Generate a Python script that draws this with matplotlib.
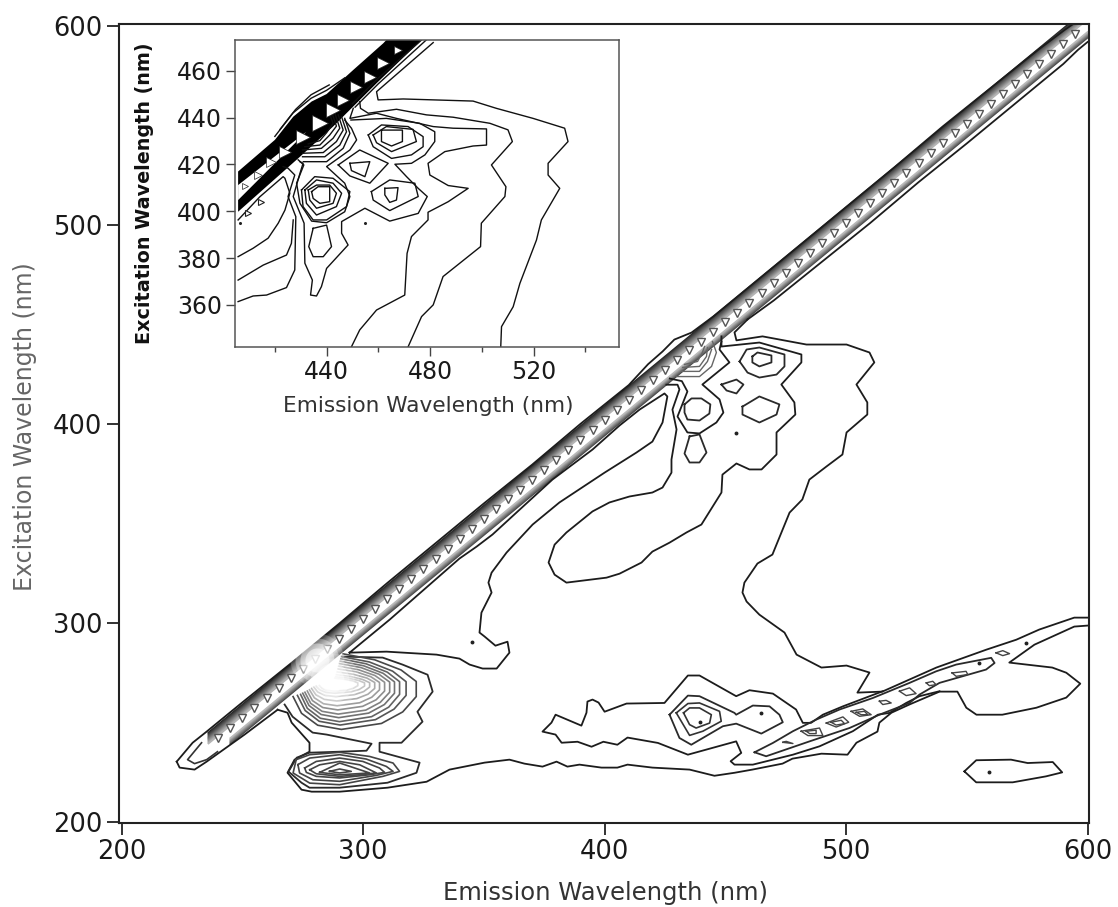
#
# Excitation-emission contour map with an inset zoom of the 400-550 nm region
#
import matplotlib
matplotlib.use('Agg')
import matplotlib.pyplot as plt
import numpy as np

# Main panel: contours as (emission, excitation) in nm
band_top = [(222.8, 230.2), (229.4, 239.7), (235.2, 245.3), (250, 260), (270, 279.5), (290, 299.5), (310, 320),
            (330, 340), (350, 360), (370, 379.5), (390, 400), (410, 419.5), (418, 430), (424, 436.4), (428.9, 442.4),
            (436, 445.9), (445, 454), (460, 469), (480, 489), (500, 509), (520, 529), (540, 549.5), (560, 569),
            (580, 588.5), (591, 598.5), (600, 606)]
band_low = [(222.8, 230.2), (224, 227.2), (230.2, 226.2), (235.2, 230.2), (250.9, 243.8), (264.6, 256.3)]
band_low_right = [(459.2, 452.5), (470, 462), (490, 481.5), (510, 501), (530, 521.5), (550, 541), (570, 561),
                  (590, 581), (596, 588), (600, 592)]
tip_inner = [(233.1, 239.7), (227.3, 231.2), (230.2, 229.2), (235.2, 231.2), (239.7, 235.2)]

edge_contour = [(264.6, 256.3), (268.7, 254.8), (270.4, 249.8), (277.8, 239.7), (277.8, 235.2), (271.6, 231.2),
                (268.7, 224.6), (274.5, 216.1), (278.7, 215.1), (290.3, 215.1), (310.1, 217.1), (326.3, 220.1),
                (335.8, 226.2), (350.3, 229.7), (360.6, 231.2), (366.8, 229.2), (374.3, 227.7), (380.1, 230.2),
                (384.6, 227.7), (389.6, 228.7), (398.7, 227.2), (405.3, 227.2), (409.5, 228.7), (419.8, 227.2),
                (435.2, 226.2), (445.5, 223.1), (453.8, 224.6), (461.2, 226.2), (473.7, 229.2), (477.8, 231.7),
                (489.8, 234.2), (500.6, 233.7), (504.3, 239.7), (513, 245.3), (513.8, 249.8), (518.8, 254.8),
                (526.2, 258.9), (538.7, 265.4), (546.1, 265.4), (549.8, 257.3), (554, 253.8), (564.7, 253.8),
                (578.8, 257.3), (591.2, 262.4), (597, 269.4), (591.2, 274.9), (585.4, 277.5), (567.6, 280),
                (578, 289), (594.5, 298.1), (600, 298.6)]
big_contour = [(600, 302.6), (594.5, 302.6), (580, 296.6), (570.5, 291.5), (558.1, 286.5), (537.4, 277.5),
               (515, 265.4), (504.7, 264.9), (509.7, 275), (500.2, 278.5), (489.8, 277.5), (479.5, 284),
               (474.5, 295.1), (464.1, 304.1), (458.8, 310.7), (457.1, 315.2), (457.9, 320.2), (463.3, 329.8),
               (469.5, 334.3), (476.6, 355.4), (480.7, 360.5), (481.9, 362), (484.8, 372), (491.9, 378.6),
               (498.5, 384.6), (500.2, 395.7), (508.8, 404.7), (508.8, 410.8), (504.3, 419.8), (511.7, 430.9),
               (509.7, 435.9), (500.2, 439.9), (483.6, 439.9), (465.4, 444), (454.6, 442), (453.8, 446), (459.2, 452.5)]
lobe_contour = [(294.4, 285), (311, 301.6), (339.9, 332.3), (347, 338.3), (353.6, 344.4), (378.4, 372), (395, 387.1),
                (406.2, 399.2), (414.5, 407.2), (424.8, 415.3), (426, 413.8), (424, 400.7), (419.8, 391.1),
                (413.2, 385.6), (400, 375.5), (381.3, 360.5), (370.2, 349.4), (359.4, 335.3), (353.2, 325.2),
                (351.9, 320.2), (353.2, 315.2), (349, 305.1), (348.2, 295.1), (350.3, 293.1), (354.8, 288.5),
                (359.8, 290.5), (360.6, 285), (355.3, 277), (349.5, 277), (344.1, 279), (339.9, 282), (330.4, 284),
                (309.7, 285.5), (294.4, 285)]
mid_contour = [(425.6, 419.7), (430.2, 419.7), (431, 417.3), (428.1, 407.2), (429.8, 397.2), (427.7, 382.1),
               (427.7, 375.5), (424, 368), (419.8, 365.5), (410.3, 363.5), (402, 360.5), (395, 356), (384.2, 345.4),
               (379.3, 339.3), (376.8, 330.3), (379.3, 324.2), (384.2, 320.2), (400.8, 322.7), (406.2, 324.7),
               (415.3, 330.3), (419.8, 335.8), (426.9, 340.3), (433.9, 345.4), (440.1, 349.4), (448.4, 365.5),
               (448.8, 374.5), (454.6, 380.1), (460, 377.1), (465, 377.1), (471.2, 384.6), (471.2, 395.7),
               (479, 404.7), (478.6, 410.8), (473.2, 419.8), (481.5, 430.9), (481.5, 434.9), (464.1, 440.9),
               (448.4, 438.9), (448.4, 444)]
inner_contour = [(448.4, 441.4), (447.6, 437.4), (451.7, 430.9), (440.5, 419.8), (447.6, 412.3), (449.2, 405.7),
                 (446.3, 400.7), (439.3, 395.2), (434.3, 395.7), (430.2, 403.7), (434.3, 416.3), (432, 421.5),
                 (427, 422.8)]
peak_left = [(433.1, 409.8), (436, 412.8), (440.1, 412.8), (443.8, 409.8), (443.4, 405.2), (439.3, 401.7),
             (434.3, 402.2), (433.1, 405.7), (433.1, 409.8)]
peak_right = [(457.1, 408.7), (464.1, 413.8), (472.4, 409.8), (471.2, 404.7), (464.1, 400.7), (457.1, 404.7),
              (457.1, 408.7)]
peak_center = [(448.4, 419.8), (454.6, 422.3), (457.5, 419.8), (454.6, 415.3), (450.5, 416.8), (448.4, 419.8)]
peak_top_outer = [(455.9, 431.4), (458.8, 437.4), (464.1, 438.4), (474.5, 434.9), (474.5, 428.9), (471.2, 424.8),
                  (464.1, 423.3), (459.2, 425.8), (455.9, 431.4)]
peak_top_inner = [(461.2, 433.9), (463.3, 435.9), (469.1, 434.4), (469.1, 430.9), (464.1, 428.9), (461.2, 430.9),
                  (461.2, 433.9)]
teardrop = [(435.2, 393.7), (439.3, 394.7), (442.2, 385.6), (439.3, 380.6), (435.2, 380.6), (433.1, 385.1),
            (435.2, 393.7)]
fan_arcs = [[(429.8, 423.8), (439.3, 423.8), (444.3, 428.9), (446.3, 435.9), (444.7, 441.4)],
            [(431.8, 426.4), (439.3, 426.4), (442.6, 431.4), (444.3, 437.4)],
            [(432.3, 428.4), (439.3, 428.9), (442.2, 433.9), (442.6, 438.4)],
            [(433.1, 429.9), (438.5, 431.4), (440.5, 435.9), (441.4, 438.9)]]

# Contour around both UV peaks
uv_contour = [(291.5, 283), (308.1, 282.5), (316.3, 279), (326.7, 273.9), (328.8, 265.4), (322.5, 255.3),
              (324.6, 250.3), (315.9, 239.7), (306.8, 239.7), (306.8, 235.2), (323.4, 229.7), (322.1, 224.6),
              (310.1, 219.6), (290.3, 217.1), (277.8, 217.1), (274.5, 219.6), (269.1, 225.2), (272.5, 232.2),
              (277.8, 234.7), (290.3, 235.2), (301.4, 235.7), (303.5, 239.2), (284.9, 243.8), (279.1, 244.8),
              (270.8, 252.8), (267.5, 258.9)]
# Rings of the 270 nm peak, outer to inner
peak270_a = [(291.7, 284.4), (304.8, 281.4), (315.7, 276.3), (322, 270.5), (322, 262.9), (316.4, 255.2), (307.6, 249.4),
             (291, 246.4), (281.2, 248.5), (274.5, 254.5), (271, 262.9)]
peak270_b = [(291.1, 283), (302.6, 280.3), (312.2, 275.7), (317.8, 270.4), (317.8, 263.5), (312.8, 256.6),
             (305.1, 251.3), (290.5, 248.6), (281.8, 250.5), (276, 255.9), (272.8, 263.5)]
peak270_c = [(290.8, 281.9), (301.2, 279.4), (310, 275.2), (315.1, 270.4), (315.1, 264), (310.6, 257.6), (303.5, 252.8),
             (290.2, 250.3), (282.3, 252), (276.9, 257), (274.1, 264)]
peak270_d = [(290.5, 280.7), (300.2, 278.4), (308.3, 274.6), (313, 270.3), (313, 264.6), (308.8, 258.9), (302.3, 254.6),
             (289.9, 252.3), (282.6, 253.9), (277.6, 258.4), (275, 264.6)]
peak270_e = [(290.2, 279.5), (299.1, 277.5), (306.6, 274.1), (311, 270.2), (311, 265.1), (307.1, 260), (301.1, 256.1),
             (289.7, 254.1), (283, 255.5), (278.3, 259.5), (275.9, 265.1)]
peak270_f = [(289.9, 278.2), (298.1, 276.4), (304.9, 273.5), (308.9, 270.1), (308.9, 265.7), (305.4, 261.3),
             (299.8, 258), (289.5, 256.2), (283.3, 257.4), (279, 260.9), (276.9, 265.7)]
peak270_g = [(289.6, 276.8), (297, 275.4), (303.2, 272.9), (306.8, 270), (306.8, 266.3), (303.6, 262.6), (298.6, 259.8),
             (289.2, 258.3), (283.6, 259.3), (279.8, 262.3), (277.8, 266.3)]
peak270_h = [(289.3, 275.3), (296, 274.1), (301.6, 272.2), (304.8, 270), (304.8, 267), (302, 264.1), (297.4, 261.9),
             (289, 260.7), (283.9, 261.5), (280.5, 263.8), (278.7, 267)]
peak270_i = [(289, 273.9), (294.9, 273), (299.8, 271.5), (302.7, 269.9), (302.7, 267.7), (300.2, 265.4), (296.2, 263.8),
             (288.7, 262.9), (284.3, 263.5), (281.2, 265.2), (279.6, 267.7)]
peak270_j = [(288.7, 272.8), (293.8, 272.2), (298.1, 271), (300.6, 269.8), (300.6, 268.2), (298.4, 266.5), (295, 265.3),
             (288.5, 264.6), (284.6, 265), (282, 266.3), (280.6, 268.2)]
peak270_k = [(288.3, 272.2), (292.4, 271.6), (295.8, 270.8), (297.8, 269.8), (297.8, 268.4), (296, 267.1), (293.3, 266.1),
             (288.1, 265.6), (285, 266), (283, 267), (281.9, 268.4)]
peak270_rings = [peak270_a, peak270_b, peak270_c, peak270_d, peak270_e, peak270_f, peak270_g, peak270_h, peak270_i,
                 peak270_j, peak270_k]
# Rings of the 225 nm peak
peak225_a = [(272.3, 231.2), (277.9, 233.7), (290.3, 234.9), (302.7, 232.8), (312.4, 229.5), (315.1, 225.3), (308.2, 222.8),
             (290.3, 218.6), (277.9, 219.4), (271, 224.5), (272.3, 231.2)]
peak225_b = [(273, 228.7), (277.9, 232), (290.3, 233.7), (301.3, 231.5), (309.6, 227.8), (312.4, 225.3), (305.5, 223.3),
             (290.3, 220.3), (279.2, 221.1), (273.7, 224.5), (273, 228.7)]
peak225_c = [(275.8, 227), (280.6, 230.3), (290.3, 232), (299.9, 230.3), (306.8, 227), (308.9, 224.8), (302.7, 223.6),
             (290.3, 222), (280.6, 222.8), (276.5, 224.8), (275.8, 227)]
peak225_d = [(277.9, 226.1), (282, 228.6), (290.3, 230.3), (298.6, 228.6), (305.5, 224.5), (298.6, 223.6), (290.3, 222.8),
             (280.6, 224.1), (277.9, 226.1)]
peak225_e = [(282, 224.8), (290.3, 229.5), (296.5, 227), (302.7, 224.5), (290.3, 223.6), (282, 224.8)]
peak225_f = [(286.1, 225.3), (290.3, 226.5), (295.1, 225.3), (290.3, 224.5), (286.1, 225.3)]
peak225_rings = [peak225_a, peak225_b, peak225_c, peak225_d, peak225_e, peak225_f]

# Second order region, lower right
second_upper = [(515.2, 265.6), (498.7, 258), (490.4, 253.8), (485.5, 249.7), (482.1, 249.7), (479.3, 256.4), (469.7, 264.4),
                (460, 266.1), (454.5, 263.1), (439.3, 273.5), (434.5, 273.5), (424.8, 259.7), (409.1, 259.4), (400, 255.3),
                (397.5, 259.9), (395, 261.4), (392.9, 260.4), (392.5, 254.8), (390.4, 248.3), (379.7, 253.8), (378, 249.8),
                (374.3, 245.3), (379.7, 243.8), (382.2, 239.7), (388.8, 240.2), (394.6, 237.7), (399.5, 240.2), (405.3, 238.7),
                (409.5, 242.3), (422.1, 239.6), (434.5, 233.7), (454.5, 240.4), (456.6, 234.6), (452.2, 230.4), (453.8, 228.7),
                (461.4, 228.7), (478, 233.7), (489, 237.9), (502.8, 245.5), (513.2, 253.8), (518, 254.7), (524.9, 259.7),
                (530.4, 263.1), (538.7, 265.6)]
second_long = [(462.1, 234.9), (469.7, 239.6), (478, 245.5), (487.6, 251.3), (497.3, 256.4), (511.1, 262.2), (526.3, 269.8),
               (537.3, 275.6), (545.6, 279), (560.1, 282.4), (561.5, 279.8), (558, 276.5), (538.7, 269.8), (530.4, 263.9),
               (526.3, 259.7), (513.8, 253.8), (501.4, 247.1), (484.9, 240.4), (466.9, 232.9), (462.1, 234.9)]
peak250_outer = [(426.9, 253.8), (434.5, 263.4), (439.3, 263.1), (453.8, 254.7), (454.5, 253.8), (461.4, 258.4), (468.3, 258),
                 (472.4, 253.8), (473.8, 250), (464.9, 244.3), (454.5, 249.3), (449, 248), (435.9, 238.7), (431, 242.1), (426.9, 253.8)]
peak250_mid = [(429.7, 254.7), (434.5, 259.4), (439.3, 259.7), (447.6, 255.5), (448.3, 250.5), (440.7, 245.5), (435.2, 243.4),
               (429.7, 254.7)]
peak250_in = [(432.7, 254.7), (435.2, 257.2), (439.3, 257.2), (444.2, 253.8), (443.5, 249.6), (437.9, 247.1), (435.2, 248.8),
              (432.7, 254.7)]
island = [(549, 225.3), (553.9, 230.9), (568.3, 231.2), (575.2, 229.5), (585.6, 230), (589.5, 224.8), (582.8, 222.8), (569, 219.8),
          (553.9, 219.8), (549, 225.3)]
small_rings = [[(473.8, 239.9), (478, 239.3), (475.2, 240.4), (473.8, 239.9)],
               [(481.4, 245.5), (489, 247.1), (490.4, 243.3), (484.2, 243.3), (481.4, 245.5)],
               [(483.5, 245.5), (487.6, 246), (487.6, 244.3), (484.9, 244.3), (483.5, 245.5)],
               [(491.8, 249.6), (498.7, 252.7), (501.1, 250), (495.9, 247.6), (491.8, 249.6)],
               [(493.8, 250), (498, 251), (499.4, 249.3), (495.9, 248.6), (493.8, 250)],
               [(502.1, 255.5), (506.9, 256.7), (510.4, 253.8), (505.6, 253), (502.1, 255.5)],
               [(504.2, 255), (507.6, 255.5), (509, 253.8), (506.3, 253.8), (504.2, 255)],
               [(513.8, 260.6), (516.6, 261), (518.7, 259.7), (515.2, 258.9), (513.8, 260.6)],
               [(522.1, 265.6), (526.3, 267.3), (529, 264.4), (524.9, 263.4), (522.1, 265.6)],
               [(533.2, 269.8), (535.9, 270.6), (537.3, 268.9), (534.5, 268.4), (533.2, 269.8)],
               [(543.9, 274.8), (549.7, 275.6), (550.4, 274), (545.6, 273.1), (543.9, 274.8)],
               [(562.1, 284.9), (564.9, 286), (567.7, 284.5), (564.9, 283.5), (562.1, 284.9)]]
main_dots = [(344.9, 290.5), (454.6, 395.2), (555, 279.8), (574.6, 289.9), (559.4, 224.8), (439.7, 250), (464.6, 254.7)]

# Rayleigh ridge: offsets (excitation - emission) of the gray levels and the scan grid
ridge_em_upper = [236, 600]
ridge_em_lower = [245, 600]
ridge_upper = [8.8, 8.2, 7.6, 7, 6.4, 5.8, 5.2, 4.6, 4, 3.4]
ridge_lower = [-5.9, -5.4, -4.9, -4.4, -3.9, -3.4, -2.9]
ridge_tri_em = [240, 245, 250, 255, 260, 265, 270, 275, 280, 285, 290, 295, 300, 305, 310, 315, 320, 325, 330, 335, 340, 345,
                350, 355, 360, 365, 370, 375, 380, 385, 390, 395, 400, 405, 410, 415, 420, 425, 430, 435, 440, 445, 450, 455,
                460, 465, 470, 475, 480, 485, 490, 495, 500, 505, 510, 515, 520, 525, 530, 535, 540, 545, 550, 555, 560, 565,
                570, 575, 580, 585, 590, 595]
ridge_tri_ex = [242, 247, 252, 257, 262, 267, 272, 277, 282, 287, 292, 297, 302, 307, 312, 317, 322, 327, 332, 337, 342, 347,
                352, 357, 362, 367, 372, 377, 382, 387, 392, 397, 402, 407, 412, 417, 422, 427, 432, 437, 441, 446, 451, 456,
                461, 466, 471, 476, 481, 486, 491, 496, 501, 506, 511, 516, 521, 526, 531, 536, 541, 546, 551, 556, 561, 566,
                571, 576, 581, 586, 591, 596]
glow_em = [280.7, 287]
glow_ex = [281.5, 271]

main_ticks = [200, 300, 400, 500, 600]

# Inset panel
inset_band_upper = [(405.8, 417), (420, 430.5), (427.1, 440.4), (434.2, 446.9), (440, 450.1), (450.3, 460.4), (461.9, 471.8), (463.1, 473.2)]
inset_band_lower = [(476.7, 473.2), (459.3, 454.7), (442.5, 436.2), (429.7, 423.3), (405.8, 399.8)]
inset_gap = [(405.8, 411.2), (432.2, 434), (405.8, 404.8)]
inset_tri = [(408.4, 410.8), (413.6, 415.5), (418.7, 421.2), (423.9, 425.5), (430.9, 431.9), (437.4, 437.6), (442.5, 443.3),
             (446.4, 447.6), (451.5, 453.3), (456.7, 457.5), (461.9, 463.2), (467.6, 469)]
inset_small_tri = [(414.8, 404.1), (409.7, 399.1)]
inset_dots = [(406.5, 394.9), (454.8, 395.1)]
inset_a = [(481.2, 472.1), (459.3, 451.1), (459.9, 447.6), (469.6, 448), (496.6, 447.1), (505.6, 444), (519.8, 439.7), (532, 435.5),
           (533.3, 429.8), (525.6, 420.5), (525.6, 415.5), (530.1, 409.8), (523, 396.3), (521.1, 387.7), (514.7, 369.2), (512.1, 359.2),
           (507.6, 350.7), (507.3, 342.1)]
inset_b = [(452.8, 446.8), (453.1, 444), (456.1, 441.9), (467, 443.6), (478.6, 441.2), (488.9, 440.2), (503.1, 437.6), (510.1, 434.8),
           (511.8, 429.8), (503.7, 419.8), (509.3, 410.5), (508.9, 406.3), (499.8, 394.9), (499.5, 384.9), (485, 372.1), (481.2, 360),
           (476.7, 355), (471.5, 342.1)]
inset_c = [(450.3, 444), (449, 439.7), (459.3, 441.9), (467, 439.7), (481.2, 436.2), (488.9, 435.5), (501.8, 435.2), (501.8, 428.3),
           (496.6, 427.9), (485.7, 425.5), (479.2, 420.5), (479.9, 415.5), (487, 411), (494.7, 409.8), (487, 404.1), (479.2, 399.6),
           (479.2, 396.3), (472.8, 389.2), (471.1, 382), (470.2, 364.2), (459.3, 357.8), (452.8, 349.3), (449.6, 342.1)]
inset_d = [(449.4, 439), (463.1, 439.7), (476, 437.6), (481.8, 434), (481.8, 429.8), (478, 424.1), (472.8, 420.5), (466.4, 420.1),
           (470.9, 414.8), (475.4, 409.8), (478.9, 406.3), (475.4, 399.1), (464.4, 395.8), (454.8, 401.3), (445.8, 395.6), (445.8, 390.6),
           (448.3, 385.6), (440, 375.6), (438, 367.8), (436.1, 363.8), (433.8, 364.2), (434.5, 370.6), (431.6, 377.8), (431.3, 394.9),
           (427.1, 406.3), (429.7, 416.2), (430.9, 420.5), (429.7, 421.2)]
inset_e = [(447, 439), (449.6, 435.5), (451.6, 430.5), (449, 426.2), (440, 419.1), (447, 412), (449, 406.3), (447, 399.8), (440, 395.1),
           (434.2, 395.8), (429.7, 403.4), (428.4, 412), (431.2, 419.8), (429, 422)]
inset_ll1 = [(405.8, 361.4), (411.6, 363.8), (416.8, 364.2), (424.5, 367.4), (427.7, 374.9), (428.1, 397.7), (425.1, 406.3), (427.7, 415.5),
             (425.1, 418.4), (423.2, 419.1)]
inset_ll2 = [(405.8, 370.6), (415.5, 377), (424.5, 381.3), (426.4, 386.3), (427.1, 396.3)]
inset_ll3 = [(405.8, 380.6), (411.6, 384.2), (417.4, 388.5), (421.3, 394.9), (423.9, 400.5), (425.8, 407.7), (423.9, 414.1), (423.2, 414.8),
             (414.2, 406.2), (405.8, 396.3)]
inset_rings = [[(456.1, 432.6), (461.2, 436.9), (471.5, 436.2), (477.3, 431.9), (477.3, 427.6), (472.8, 424.1), (465.1, 422.6), (458, 427.6), (456.1, 432.6)],
               [(458, 432.6), (463.1, 436.2), (473.4, 435), (474.7, 429.8), (465.1, 425.5), (459.3, 429.3), (458, 432.6)],
               [(461.2, 434.7), (469.3, 434.7), (469.3, 429.8), (465.1, 427.9), (461.2, 429.8), (461.2, 434.7)],
               [(444.5, 419.8), (452.8, 426.2), (463.8, 420.5), (456.7, 412), (449, 415.1), (444.5, 419.8)],
               [(449, 420.5), (456.7, 421.2), (454.8, 414.8), (449.6, 417.4), (449, 420.5)],
               [(457.3, 408.4), (464.4, 413.4), (474.1, 412), (475.4, 406.3), (464.4, 400.3), (458, 404.8), (457.3, 408.4)],
               [(462.5, 409.8), (467.6, 410.1), (467, 404.8), (464.4, 403.8), (462.5, 407), (462.5, 409.8)],
               [(430.3, 409.1), (435.4, 414.8), (442.5, 414.1), (449, 408.4), (447.7, 402), (440, 396.3), (434.8, 396.3), (430.9, 402), (430.3, 409.1)],
               [(431.6, 409.1), (436.1, 413.4), (442.5, 412), (445.8, 407.7), (443.8, 402), (436.1, 398.4), (432.2, 403.4), (431.6, 409.1)],
               [(432.9, 409.1), (436.1, 411.2), (441.2, 411.2), (443.8, 407.7), (442.5, 403.4), (436.1, 401.3), (433.5, 404.8), (432.9, 409.1)],
               [(434.2, 408.4), (436.7, 410.5), (441.2, 410.5), (441.2, 404.1), (437.4, 403.4), (434.8, 405.5), (434.2, 408.4)],
               [(434.8, 392.7), (440, 394.1), (441.9, 384.9), (438.7, 380.6), (434.8, 380.6), (433.1, 384.9), (434.8, 392.7)]]
inset_fan = [[(431, 421.2), (440, 421.2), (446.4, 426.9), (449, 433.3), (447, 439.7)],
             [(430.7, 423.3), (439.3, 423.3), (445.1, 428.3), (447.7, 434), (445.8, 440.4)],
             [(430.7, 424.8), (438.7, 425.1), (443.8, 429.8), (446.4, 434.7), (444.5, 441.2)],
             [(430.7, 426.2), (438, 426.9), (442.5, 431.2), (445.1, 435.5), (443.2, 441.9)],
             [(431.6, 427.6), (437.4, 428.3), (441.2, 432.6), (443.8, 436.4), (441.9, 442.6)],
             [(432.9, 428.8), (437.4, 430.2), (440, 433.6), (442.5, 437.6), (440.6, 443.3)]]
inset_extra = [[(476.7, 473.2), (459.3, 456.2), (450, 446)],
               [(478.5, 473.2), (460, 454.5), (451, 444.5)],
               [(420, 432), (427, 442), (434, 448.3), (440, 451.7), (447, 457)],
               [(422, 435), (428, 443.5), (434, 449.8), (441, 454)]]
inset_xticks = [440, 480, 520]
inset_xminor = [420, 460, 500, 540]
inset_yticks = [360, 380, 400, 420, 440, 460]


def line(ax, pts, color='#1c1c1c', lw=1.3):
    arr = np.array(pts)
    ax.plot(arr[:, 0], arr[:, 1], color=color, lw=lw, solid_joinstyle='round')


W, H = 1118, 907
fig = plt.figure(figsize=(W / 100, H / 100), dpi=100)

# Main panel
ax = fig.add_axes([118.5 / W, 1 - 823 / H, 970 / W, 799.5 / H])
ax.set_xlim(198.7, 600.4)
ax.set_ylim(199.35, 601.3)

n_up = len(ridge_upper)
for i, off in enumerate(ridge_upper):
    g = 0.15 + 0.55 * i / (n_up - 1)
    ax.plot(ridge_em_upper, [e + off for e in ridge_em_upper], color=str(g), lw=1.4)
n_lo = len(ridge_lower)
for i, off in enumerate(ridge_lower):
    g = 0.28 + 0.45 * i / (n_lo - 1)
    ax.plot(ridge_em_lower, [e + off for e in ridge_em_lower], color=str(g), lw=1.1)
ax.plot(ridge_tri_em, ridge_tri_ex, ls='none', marker='v', ms=6, mfc='white', mec='#555555', mew=1.0)

for s, a in zip([1500, 1000, 600, 300], [0.2, 0.3, 0.4, 0.5]):
    ax.scatter(glow_em, glow_ex, s=s, c='white', alpha=a, lw=0, zorder=2.5)

for c in [band_top, band_low, band_low_right, edge_contour, big_contour, lobe_contour, mid_contour, inner_contour,
          second_upper, island]:
    line(ax, c)
for c in [peak_left, peak_right, peak_center, peak_top_outer, peak_top_inner, teardrop, uv_contour, second_long,
          peak250_outer]:
    line(ax, c, color='#2a2a2a')
for c in [peak250_mid, peak250_in, tip_inner]:
    line(ax, c, color='#333333', lw=1.2)
for c in fan_arcs:
    line(ax, c, color='#666666', lw=1.0)
for c in small_rings:
    line(ax, c, color='#444444', lw=1.0)
for c in peak225_rings:
    line(ax, c, color='#444444', lw=1.2)
n_rings = len(peak270_rings)
for i, c in enumerate(peak270_rings):
    line(ax, c, color=str(0.28 + 0.55 * i / (n_rings - 1)), lw=1.2)
dots = np.array(main_dots)
ax.plot(dots[:, 0], dots[:, 1], ls='none', marker='o', ms=1.8, color='#222222')

ax.set_xticks(main_ticks)
ax.set_yticks(main_ticks)
ax.tick_params(length=8.5, width=1.3, labelsize=18.5, color='#222222', labelcolor='#1a1a1a', pad=3)
for s in ax.spines.values():
    s.set_linewidth(1.5)
    s.set_color('#222222')

# Inset panel
ins = fig.add_axes([235 / W, 1 - 347 / H, 384 / W, 307 / H])
ins.set_xlim(404.6, 553)
ins.set_ylim(342, 473.2)

band = np.array(inset_band_upper + inset_band_lower)
ins.fill(band[:, 0], band[:, 1], color='black', lw=0)
gap = np.array(inset_gap)
ins.fill(gap[:, 0], gap[:, 1], color='white', lw=0)
for c in [inset_a, inset_b, inset_c, inset_d, inset_e, inset_ll1, inset_ll2, inset_ll3] + inset_rings + inset_fan + inset_extra:
    line(ins, c, color='#111111', lw=1.0)
tri = np.array(inset_tri)
tri_sizes = [5, 6, 7, 8, 10, 11, 10, 9, 9, 8, 8, 6]
for (e, x), ms in zip(tri, tri_sizes):
    ins.plot(e, x, ls='none', marker='>', ms=ms, mfc='white', mec='#222222', mew=0.5)
small = np.array(inset_small_tri)
ins.plot(small[:, 0], small[:, 1], ls='none', marker='>', ms=4, mfc='white', mec='#222222', mew=0.8)
idots = np.array(inset_dots)
ins.plot(idots[:, 0], idots[:, 1], ls='none', marker='o', ms=1.2, color='#222222')

ins.set_xticks(inset_xticks)
ins.set_xticks(inset_xminor, minor=True)
ins.set_yticks(inset_yticks)
ins.tick_params(which='major', length=6.5, width=1, labelsize=17, color='#444444', labelcolor='#1a1a1a', pad=3)
ins.tick_params(which='minor', length=3.5, width=1, color='#444444')
for s in ins.spines.values():
    s.set_linewidth(1.1)
    s.set_color('#555555')

# Axis titles
fig.text(605.5 / W, 1 - 893 / H, 'Emission Wavelength (nm)', ha='center', va='center', fontsize=17.5, color='#333333')
fig.text(25 / W, 1 - 427 / H, 'Excitation Wavelength (nm)', ha='center', va='center', rotation=90, fontsize=17, color='#666666')
fig.text(428 / W, 1 - 406 / H, 'Emission Wavelength (nm)', ha='center', va='center', fontsize=15.6, color='#333333')
fig.text(145 / W, 1 - 193 / H, 'Excitation Wavelength (nm)', ha='center', va='center', rotation=90, fontsize=13.8, color='#111111',
         fontweight='bold')

fig.savefig('out.png', dpi=100)
